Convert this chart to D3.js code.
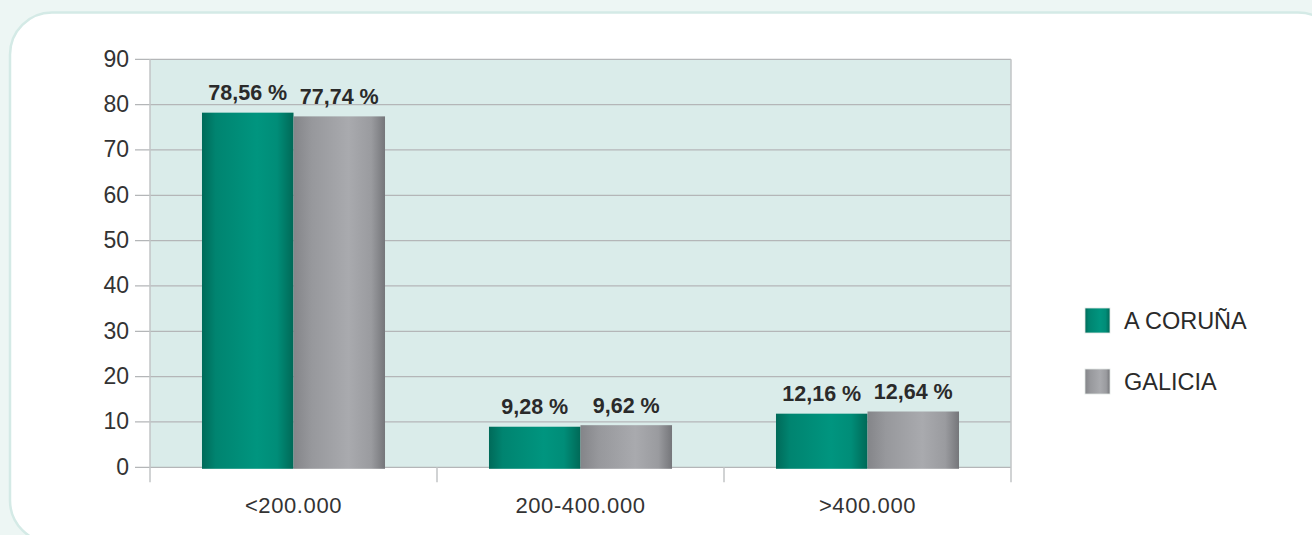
<!DOCTYPE html>
<html><head><meta charset="utf-8">
<script src="https://cdn.jsdelivr.net/npm/d3@7"></script>
<style>
html,body{margin:0;padding:0;background:#edf6f4;}
svg{display:block;}
text{font-family:"Liberation Sans",Arial,sans-serif;}
</style></head>
<body>
<svg id="chart" width="1312" height="535"></svg>
<script>
const categories = ["<200.000", "200-400.000", ">400.000"];
const seriesNames = ["A CORUÑA", "GALICIA"];
const coruna = [78.56, 9.28, 12.16];
const galicia = [77.74, 9.62, 12.64];
const valueLabels = [["78,56 %", "9,28 %", "12,16 %"], ["77,74 %", "9,62 %", "12,64 %"]];
const yTicks = [0, 10, 20, 30, 40, 50, 60, 70, 80, 90];

const svg = d3.select("#chart");
const defs = svg.append("defs");

function grad(id, stops) {
  const g = defs.append("linearGradient").attr("id", id).attr("x1", "0").attr("x2", "1").attr("y1", "0").attr("y2", "0");
  stops.forEach(s => g.append("stop").attr("offset", s[0]).attr("stop-color", s[1]));
}
grad("gTeal", [[0, "#006a59"], [0.15, "#008470"], [0.6, "#00957f"], [0.82, "#008d78"], [1, "#006957"]]);
grad("gGray", [[0, "#848589"], [0.2, "#97989c"], [0.6, "#a9aaae"], [0.85, "#9a9b9f"], [1, "#75767a"]]);
const fills = ["url(#gTeal)", "url(#gGray)"];

// frame
svg.append("rect").attr("x", 10).attr("y", 12.5).attr("width", 1330).attr("height", 530)
  .attr("rx", 42).attr("fill", "#ffffff").attr("stroke", "#d4eae6").attr("stroke-width", 2.5);

const pLeft = 150, pRight = 1011, pTop = 59.3, pBottom = 467.3;
const x = d3.scaleBand().domain(categories).range([pLeft, pRight]).paddingInner(0).paddingOuter(0);
const y = d3.scaleLinear().domain([0, 90]).range([pBottom, pTop]);
const inner = d3.scaleBand().domain([0, 1]).range([0, x.bandwidth()]).paddingOuter(0.568).paddingInner(0);

// plot background
svg.append("rect").attr("x", pLeft).attr("y", pTop).attr("width", pRight - pLeft).attr("height", pBottom - pTop).attr("fill", "#daecea");

// gridlines
svg.append("g").selectAll("line").data(yTicks).join("line")
  .attr("x1", pLeft - 15).attr("x2", pRight).attr("y1", d => y(d)).attr("y2", d => y(d))
  .attr("stroke", "#b4b6b8").attr("stroke-width", 1.3);

// vertical axis line and right edge
svg.append("line").attr("x1", pLeft).attr("x2", pLeft).attr("y1", pTop).attr("y2", pBottom + 15).attr("stroke", "#c2c4c6").attr("stroke-width", 1.5);
svg.append("line").attr("x1", pRight).attr("x2", pRight).attr("y1", pTop).attr("y2", pBottom + 15).attr("stroke", "#c2c4c6").attr("stroke-width", 1.5);
// category separator ticks
svg.append("g").selectAll("line").data(categories.slice(1)).join("line")
  .attr("x1", d => x(d)).attr("x2", d => x(d)).attr("y1", pBottom).attr("y2", pBottom + 15)
  .attr("stroke", "#c2c4c6").attr("stroke-width", 1.5);

// y tick labels
svg.append("g").selectAll("text").data(yTicks).join("text")
  .attr("x", 129).attr("y", d => y(d) + 7.5).attr("text-anchor", "end")
  .attr("font-size", 23).attr("fill", "#333").text(d => d);

// x labels
svg.append("g").selectAll("text").data(categories).join("text")
  .attr("x", d => x(d) + x.bandwidth() / 2).attr("y", 513).attr("text-anchor", "middle")
  .attr("font-size", 22).attr("fill", "#333").attr("letter-spacing", 0.6).text(d => d);

// bars
const series = [coruna, galicia];
series.forEach((vals, si) => {
  const g = svg.append("g");
  g.selectAll("rect").data(vals).join("rect")
    .attr("x", (d, i) => x(categories[i]) + inner(si))
    .attr("width", inner.bandwidth())
    .attr("y", d => y(d) + 1.5)
    .attr("height", d => y(0) - y(d))
    .attr("fill", fills[si]);
  g.selectAll("text").data(vals).join("text")
    .attr("x", (d, i) => x(categories[i]) + inner(si) + inner.bandwidth() / 2)
    .attr("y", d => y(d) - 11)
    .attr("text-anchor", "middle").attr("font-weight", "bold")
    .attr("font-size", 21.5).attr("fill", "#2a2a2a")
    .text((d, i) => valueLabels[si][i]);
});

// legend
const lg = svg.append("g");
seriesNames.forEach((n, i) => {
  const yy = 308 + i * 61;
  lg.append("rect").attr("x", 1085).attr("y", yy).attr("width", 25).attr("height", 25)
    .attr("fill", fills[i]).attr("stroke", "#e0e6e4").attr("stroke-width", 0.8);
  lg.append("text").attr("x", 1124).attr("y", yy + 21).attr("font-size", 23.5)
    .attr("fill", "#2a2a2a").text(n);
});
</script>
</body></html>
